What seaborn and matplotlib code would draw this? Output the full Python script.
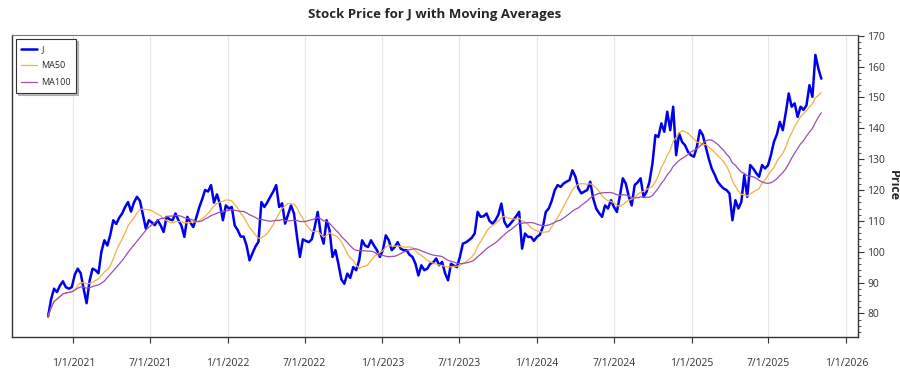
import numpy as np
import pandas as pd
import matplotlib
matplotlib.use("Agg")
import matplotlib.pyplot as plt
import matplotlib.dates as mdates
from matplotlib.ticker import MultipleLocator, FuncFormatter
import seaborn as sns

# Datos semanales (precio de cierre aprox.)
ticker = "J"
start_date = "2020-11-02"
precio = [
    79.0, 84.5, 88.0, 86.9, 89.0, 90.4, 88.5, 88.0, 88.5, 92.5,
    94.5, 93.0, 88.0, 83.3, 90.5, 94.5, 94.0, 93.0, 100.0, 103.7,
    102.0, 105.5, 110.2, 109.0, 111.0, 112.4, 114.5, 116.1, 113.0, 116.0,
    117.8, 116.5, 112.0, 107.5, 110.2, 109.5, 108.6, 110.2, 108.5, 106.4,
    111.3, 110.5, 110.2, 112.4, 110.2, 108.5, 104.8, 111.3, 109.5, 108.0,
    111.0, 114.3, 117.0, 120.0, 119.5, 121.6, 115.9, 118.6, 115.5, 110.2,
    115.0, 114.0, 114.5, 108.5, 107.0, 104.9, 104.9, 102.0, 97.2, 99.5,
    101.7, 103.2, 116.1, 114.5, 116.0, 117.8, 119.5, 121.6, 114.5, 115.7,
    109.1, 112.0, 115.0, 112.4, 105.0, 98.3, 104.0, 103.5, 103.1, 104.0,
    108.0, 112.9, 105.9, 102.6, 110.2, 107.0, 98.3, 100.5, 96.0, 91.0,
    89.6, 92.9, 91.5, 95.0, 94.0, 97.2, 103.7, 102.0, 101.5, 103.7,
    102.0, 100.5, 98.3, 100.5, 105.3, 103.7, 100.5, 101.5, 103.1, 101.0,
    100.5, 100.5, 99.0, 98.3, 96.1, 92.3, 95.6, 94.0, 94.5, 96.1,
    96.5, 97.8, 95.6, 96.7, 93.0, 90.7, 96.1, 95.5, 95.0, 98.3,
    102.6, 103.0, 103.7, 104.5, 105.9, 112.9, 111.3, 111.5, 112.4, 110.0,
    109.1, 110.2, 112.0, 115.6, 109.7, 108.0, 109.0, 110.2, 111.5, 112.9,
    101.0, 105.9, 104.8, 104.8, 103.5, 104.8, 105.5, 108.0, 112.9, 114.0,
    116.5, 119.9, 121.6, 121.0, 122.1, 122.7, 123.2, 126.4, 124.3, 120.5,
    118.9, 119.5, 120.0, 122.7, 117.3, 114.0, 112.5, 111.3, 115.0, 114.0,
    116.7, 114.5, 112.9, 118.0, 123.8, 122.1, 118.0, 115.0, 121.6, 122.5,
    123.8, 117.8, 119.4, 122.7, 128.6, 137.8, 137.2, 141.6, 138.9, 145.4,
    139.4, 147.0, 131.3, 138.3, 135.6, 134.5, 132.4, 131.3, 130.8, 134.0,
    139.4, 137.8, 134.0, 130.2, 127.0, 125.0, 122.7, 121.5, 120.5, 120.0,
    118.9, 110.2, 116.7, 114.0, 116.1, 124.8, 117.8, 128.1, 127.0, 125.5,
    124.3, 128.1, 127.0, 128.0, 131.3, 135.6, 138.0, 142.1, 139.4, 145.0,
    151.3, 147.0, 148.1, 143.7, 147.0, 146.0, 147.5, 154.0, 150.2, 163.8,
    159.4, 156.1,
]

fechas = pd.date_range(start_date, periods=len(precio), freq="7D")
df = pd.DataFrame({"Date": fechas, ticker: precio}).set_index("Date")
# 50 y 100 sesiones ~ 70 y 140 días naturales
df["MA50"] = df[ticker].rolling("70D", min_periods=1).mean()
df["MA100"] = df[ticker].rolling("140D", min_periods=1).mean()
df = df.reset_index()

sns.set_style("white")
plt.rcParams["font.family"] = ["Open Sans", "DejaVu Sans"]

fig = plt.figure(figsize=(9, 3.75), dpi=100)
ax = fig.add_axes([0.013, 0.101, 0.94, 0.806])

sns.lineplot(data=df, x="Date", y=ticker, ax=ax, color="#0000ee", linewidth=1.8, label=ticker)
sns.lineplot(data=df, x="Date", y="MA50", ax=ax, color="#f5b041", linewidth=0.9, label="MA50")
sns.lineplot(data=df, x="Date", y="MA100", ax=ax, color="#9b4fb0", linewidth=0.9, label="MA100")

ax.set_xlim(pd.Timestamp("2020-08-08"), pd.Timestamp("2026-01-28"))
ax.set_ylim(72.3, 170.3)

ax.xaxis.set_major_locator(mdates.MonthLocator(bymonth=[1, 7]))
ax.xaxis.set_major_formatter(FuncFormatter(
    lambda v, pos: f"{mdates.num2date(v).month}/{mdates.num2date(v).day}/{mdates.num2date(v).year}"))
ax.grid(axis="x", color="#e6e6e6", linewidth=0.8)
ax.grid(axis="y", visible=False)

ax.yaxis.tick_right()
ax.yaxis.set_label_position("right")
ax.yaxis.set_major_locator(MultipleLocator(10))
ax.yaxis.set_minor_locator(MultipleLocator(2))
ax.tick_params(axis="y", which="major", right=True, left=False, length=4, width=0.8,
               labelsize=7.5, colors="#333333", pad=3)
ax.tick_params(axis="y", which="minor", right=True, left=False, length=2, width=0.6, colors="#333333")
ax.tick_params(axis="x", bottom=True, length=4, width=0.8, labelsize=7.5, colors="#333333", pad=11)

for lado in ["left", "bottom", "right"]:
    ax.spines[lado].set_color("#333333")
    ax.spines[lado].set_linewidth(1.0)
ax.spines["top"].set_color("#777777")

ax.set_xlabel("")
ax.set_ylabel("Price", rotation=270, fontsize=9, fontweight="bold", va="center", ha="center")
ax.yaxis.set_label_coords(1.042, 0.5)
ax.set_title(f"Stock Price for {ticker} with Moving Averages", fontsize=9.5, fontweight="bold", pad=12)

leg = ax.legend(loc="upper left", fontsize=6.5, frameon=True, fancybox=False,
                shadow={"ox": 1.5, "oy": -1.5, "alpha": 0.35},
                edgecolor="#333333", framealpha=1, borderpad=0.6, handlelength=1.7,
                handletextpad=0.5, labelspacing=0.85, borderaxespad=0,
                bbox_to_anchor=(0.005, 0.985))
leg.get_frame().set_linewidth(0.8)

fig.savefig("out.png", dpi=100)
